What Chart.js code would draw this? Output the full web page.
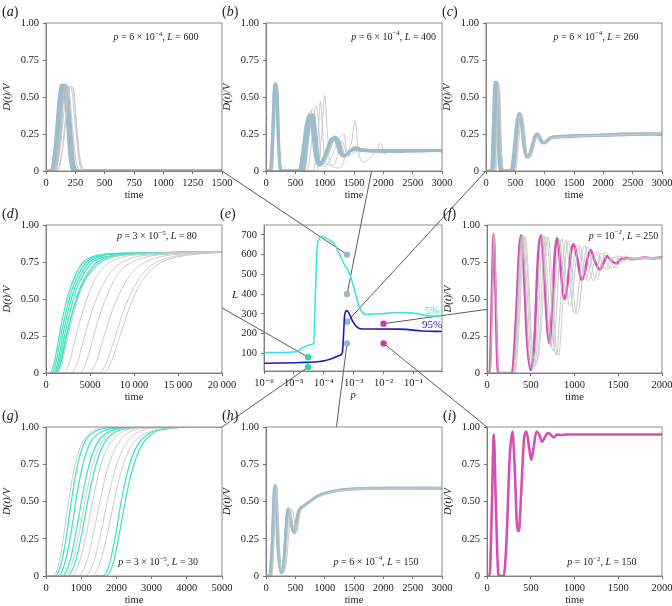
<!DOCTYPE html>
<html>
<head>
<meta charset="utf-8">
<script src="https://cdn.jsdelivr.net/npm/chart.js@4.4.1/dist/chart.umd.min.js"></script>
<style>
  body { margin: 0; background: #fff; }
  #fig { position: relative; width: 672px; height: 606px; overflow: hidden; }
  #fig canvas { position: absolute; }
</style>
</head>
<body>
<div id="fig"><canvas id="links" width="672" height="606" style="left:0;top:0"></canvas></div>
<script>
// ---- data: [time, D(t)/V] pairs ----
const aGray = [
  [[0,0],[70,0],[120,0.15],[160,0.45],[190,0.57],[215,0.56],[245,0.35],[280,0.08],[320,0],[1500,0]],
  [[0,0],[90,0],[140,0.15],[180,0.47],[210,0.57],[230,0.56],[260,0.3],[295,0.05],[340,0],[1500,0]],
  [[0,0],[60,0],[105,0.15],[145,0.48],[170,0.58],[195,0.56],[225,0.3],[260,0.05],[300,0],[1500,0]],
  [[0,0],[100,0],[150,0.2],[190,0.52],[215,0.57],[235,0.55],[262,0.3],[300,0.04],[345,0],[1500,0]]
];
const aBlue = [
  [[0,0],[45,0],[90,0.2],[120,0.5],[140,0.58],[160,0.58],[185,0.38],[215,0.08],[250,0],[1500,0]],
  [[0,0],[60,0],[105,0.2],[135,0.5],[155,0.58],[175,0.57],[200,0.36],[230,0.06],[265,0],[1500,0]],
  [[0,0],[35,0],[75,0.15],[110,0.48],[130,0.58],[150,0.58],[175,0.4],[205,0.08],[240,0],[1500,0]],
  [[0,0],[70,0],[115,0.2],[145,0.52],[165,0.58],[182,0.55],[210,0.3],[240,0.04],[270,0],[1500,0]]
];
const bGray = [
  [[0,0],[650,0],[720,0.2],[790,0.42],[830,0.4],[880,0.15],[950,0.04],[1050,0.1],[1200,0.22],[1280,0.2],[1350,0.1],[1450,0.13],[1600,0.15],[1800,0.13],[2200,0.14],[3000,0.14]],
  [[0,0],[700,0],[780,0.2],[850,0.44],[880,0.4],[930,0.12],[990,0.03],[1100,0.08],[1250,0.22],[1330,0.25],[1390,0.1],[1480,0.12],[1650,0.15],[2000,0.13],[2500,0.14],[3000,0.14]],
  [[0,0],[800,0],[880,0.2],[930,0.47],[960,0.3],[1010,0.05],[1150,0.04],[1300,0.2],[1380,0.12],[1500,0.14],[1700,0.15],[2000,0.13],[3000,0.14]],
  [[0,0],[860,0],[950,0.25],[1000,0.51],[1040,0.3],[1090,0.05],[1250,0.02],[1380,0.12],[1460,0.2],[1520,0.34],[1570,0.15],[1650,0.06],[1800,0.1],[1900,0.15],[1950,0.19],[2020,0.12],[2150,0.13],[3000,0.14]],
  [[0,0],[620,0],[690,0.2],[750,0.4],[790,0.38],[850,0.12],[920,0.03],[1000,0.06],[1120,0.18],[1210,0.23],[1270,0.18],[1340,0.09],[1430,0.14],[1560,0.16],[1700,0.13],[2400,0.14],[3000,0.14]]
];
const bBlue = [
  [[0,0],[70,0],[110,0.25],[140,0.55],[155,0.59],[175,0.57],[200,0.3],[230,0.05],[260,0],[560,0],[620,0.12],[680,0.3],[730,0.38],[780,0.3],[840,0.1],[900,0.04],[960,0.06],[1040,0.15],[1120,0.22],[1180,0.21],[1260,0.12],[1330,0.1],[1420,0.13],[1550,0.15],[1700,0.14],[2000,0.13],[2300,0.14],[2600,0.135],[3000,0.14]],
  [[0,0],[80,0],[120,0.3],[145,0.58],[165,0.59],[185,0.5],[210,0.2],[245,0.02],[270,0],[600,0],[660,0.15],[720,0.33],[760,0.37],[810,0.28],[870,0.08],[930,0.05],[1000,0.1],[1100,0.2],[1180,0.23],[1230,0.2],[1300,0.11],[1380,0.11],[1480,0.15],[1600,0.14],[1800,0.135],[2100,0.14],[2500,0.135],[2800,0.14],[3000,0.14]],
  [[0,0],[90,0],[130,0.3],[160,0.58],[180,0.58],[200,0.45],[225,0.12],[255,0],[640,0],[700,0.18],[760,0.36],[800,0.38],[850,0.25],[910,0.06],[980,0.07],[1070,0.16],[1160,0.22],[1240,0.2],[1320,0.1],[1400,0.12],[1520,0.16],[1650,0.14],[1900,0.14],[2200,0.13],[2700,0.14],[3000,0.135]]
];
const cGray = [
  [[0,0],[150,0],[190,0.4],[210,0.6],[225,0.5],[250,0.2],[285,0.02],[320,0],[480,0],[530,0.15],[575,0.37],[610,0.37],[660,0.2],[720,0.08],[800,0.15],[880,0.24],[940,0.22],[1010,0.19],[1100,0.22],[1300,0.23],[2000,0.24],[3000,0.25]],
  [[0,0],[170,0],[200,0.3],[220,0.58],[240,0.5],[265,0.15],[300,0],[500,0],[550,0.15],[600,0.38],[640,0.33],[700,0.12],[760,0.09],[840,0.2],[900,0.25],[960,0.2],[1030,0.19],[1150,0.225],[1500,0.235],[2200,0.245],[3000,0.25]]
];
const cBlue = [
  [[0,0],[90,0],[125,0.35],[150,0.6],[170,0.58],[195,0.3],[225,0.05],[260,0],[420,0],[470,0.12],[520,0.32],[560,0.39],[600,0.32],[650,0.15],[700,0.09],[760,0.13],[830,0.23],[870,0.25],[910,0.22],[960,0.19],[1010,0.19],[1080,0.22],[1150,0.23],[1300,0.23],[1600,0.235],[2000,0.24],[2400,0.245],[2700,0.25],[3000,0.25]],
  [[0,0],[110,0],[145,0.35],[170,0.6],[190,0.58],[215,0.3],[245,0.05],[280,0],[440,0],[490,0.12],[540,0.33],[580,0.39],[620,0.3],[670,0.13],[720,0.1],[790,0.16],[860,0.25],[900,0.24],[950,0.2],[1000,0.19],[1060,0.21],[1140,0.23],[1350,0.235],[1700,0.24],[2100,0.245],[2500,0.25],[3000,0.245]],
  [[0,0],[130,0],[165,0.35],[185,0.6],[205,0.56],[230,0.28],[260,0.04],[300,0],[460,0],[510,0.15],[555,0.35],[590,0.38],[635,0.27],[690,0.1],[740,0.11],[810,0.2],[880,0.25],[920,0.23],[980,0.19],[1030,0.2],[1100,0.225],[1250,0.23],[1500,0.24],[1900,0.24],[2300,0.25],[2800,0.25],[3000,0.25]]
];
const dGray = [
  [[0,0],[1300,0],[1800,0.06],[2500,0.25],[3300,0.43],[4200,0.6],[5100,0.7],[6000,0.75],[7500,0.785],[9500,0.8],[13000,0.81],[20000,0.82]],
  [[0,0],[2000,0],[2600,0.06],[3400,0.25],[4300,0.44],[5300,0.6],[6300,0.7],[7300,0.75],[8800,0.785],[11000,0.8],[15000,0.815],[20000,0.82]],
  [[0,0],[2800,0],[3500,0.06],[4400,0.25],[5400,0.45],[6500,0.6],[7600,0.7],[8700,0.75],[10200,0.785],[12500,0.8],[16000,0.815],[20000,0.82]],
  [[0,0],[3800,0],[4500,0.06],[5400,0.25],[6400,0.44],[7500,0.6],[8600,0.7],[9800,0.75],[11500,0.785],[14000,0.805],[20000,0.82]],
  [[0,0],[4800,0],[5600,0.06],[6600,0.25],[7700,0.45],[8900,0.6],[10100,0.7],[11300,0.75],[13000,0.785],[15500,0.805],[20000,0.815]],
  [[0,0],[6000,0],[6800,0.06],[7900,0.25],[9000,0.45],[10200,0.6],[11400,0.7],[12600,0.75],[14300,0.785],[16800,0.805],[20000,0.815]],
  [[0,0],[6500,0],[7300,0.06],[8400,0.25],[9600,0.46],[10800,0.61],[12000,0.7],[13200,0.75],[15000,0.785],[17500,0.805],[20000,0.815]]
];
const dGreen = [
  [[0,0],[500,0],[900,0.06],[1500,0.25],[2100,0.43],[2800,0.58],[3500,0.68],[4250,0.75],[5500,0.79],[7000,0.805],[10000,0.81],[15000,0.815],[20000,0.82]],
  [[0,0],[700,0],[1100,0.06],[1700,0.25],[2350,0.43],[3050,0.58],[3800,0.68],[4600,0.75],[5900,0.79],[7500,0.805],[10500,0.81],[20000,0.82]],
  [[0,0],[850,0],[1300,0.06],[1900,0.25],[2550,0.43],[3300,0.58],[4100,0.68],[4950,0.75],[6300,0.79],[8000,0.805],[11000,0.81],[20000,0.82]],
  [[0,0],[1000,0],[1450,0.06],[2100,0.25],[2800,0.43],[3550,0.58],[4400,0.68],[5300,0.75],[6700,0.785],[8500,0.8],[12000,0.81],[20000,0.82]],
  [[0,0],[1200,0],[1650,0.06],[2350,0.25],[3100,0.43],[3900,0.58],[4800,0.68],[5800,0.75],[7200,0.785],[9000,0.8],[12500,0.81],[20000,0.82]],
  [[0,0],[1100,0],[1600,0.06],[2300,0.25],[3200,0.45],[4200,0.6],[5300,0.7],[6500,0.76],[8000,0.79],[10000,0.805],[14000,0.815],[20000,0.82]]
];
const fGray = [
  [[0,0],[35,0],[60,0.5],[80,0.94],[100,0.6],[125,0.05],[140,0],[300,0],[350,0.35],[390,0.85],[412,0.93],[445,0.7],[490,0.2],[530,0.03],[575,0.2],[620,0.8],[650,0.93],[685,0.7],[725,0.25],[755,0.15],[790,0.38],[830,0.8],[855,0.91],[890,0.72],[930,0.48],[955,0.45],[990,0.6],[1030,0.82],[1060,0.86],[1110,0.72],[1160,0.62],[1200,0.68],[1240,0.8],[1270,0.82],[1320,0.73],[1380,0.7],[1430,0.76],[1480,0.79],[1540,0.75],[1620,0.77],[1800,0.78],[2000,0.775]],
  [[0,0],[310,0],[360,0.35],[400,0.85],[425,0.92],[460,0.7],[510,0.15],[555,0.05],[600,0.25],[645,0.8],[680,0.92],[720,0.65],[760,0.22],[795,0.12],[830,0.38],[875,0.8],[905,0.9],[940,0.7],[985,0.42],[1010,0.4],[1050,0.6],[1090,0.82],[1120,0.86],[1170,0.7],[1220,0.62],[1260,0.7],[1300,0.81],[1340,0.8],[1400,0.71],[1460,0.72],[1510,0.79],[1570,0.78],[1650,0.76],[1800,0.78],[2000,0.77]],
  [[0,0],[320,0],[375,0.4],[415,0.88],[440,0.92],[475,0.65],[525,0.12],[570,0.08],[620,0.3],[670,0.82],[700,0.92],[745,0.6],[785,0.2],[820,0.12],[860,0.42],[905,0.82],[935,0.89],[975,0.65],[1020,0.4],[1050,0.42],[1090,0.65],[1130,0.83],[1160,0.85],[1210,0.68],[1260,0.64],[1310,0.74],[1350,0.82],[1400,0.78],[1460,0.71],[1520,0.74],[1580,0.79],[1660,0.77],[1800,0.77],[2000,0.78]],
  [[0,0],[295,0],[340,0.35],[380,0.85],[400,0.93],[430,0.7],[475,0.15],[515,0.03],[560,0.2],[600,0.8],[632,0.93],[668,0.68],[705,0.25],[735,0.18],[765,0.4],[805,0.82],[830,0.9],[865,0.72],[905,0.52],[930,0.5],[965,0.62],[1005,0.83],[1040,0.86],[1085,0.72],[1130,0.63],[1170,0.7],[1210,0.8],[1250,0.81],[1300,0.73],[1360,0.71],[1410,0.77],[1460,0.78],[1520,0.75],[1600,0.77],[2000,0.775]]
];
const fMag = [
  [[0,0],[30,0],[55,0.5],[76,0.94],[95,0.6],[120,0.05],[135,0],[285,0],[330,0.35],[370,0.85],[392,0.93],[420,0.7],[460,0.2],[500,0.02],[540,0.2],[585,0.8],[617,0.93],[650,0.7],[690,0.3],[712,0.2],[740,0.38],[775,0.8],[800,0.91],[835,0.75],[870,0.53],[890,0.5],[920,0.6],[960,0.82],[990,0.87],[1030,0.78],[1080,0.63],[1110,0.66],[1150,0.78],[1185,0.83],[1230,0.76],[1290,0.7],[1330,0.74],[1370,0.79],[1420,0.76],[1480,0.74],[1530,0.77],[1600,0.775],[1700,0.77],[1800,0.78],[1900,0.775],[2000,0.78]]
];
const gGray = [
  [[0,0],[200,0],[380,0.1],[520,0.3],[640,0.5],[800,0.72],[1000,0.88],[1300,0.97],[1700,0.995],[2200,1],[5000,1]],
  [[0,0],[500,0],[760,0.1],[950,0.3],[1120,0.52],[1310,0.73],[1560,0.89],[1900,0.97],[2400,0.995],[3000,1],[5000,1]],
  [[0,0],[700,0],[960,0.1],[1160,0.3],[1340,0.52],[1540,0.73],[1800,0.88],[2200,0.97],[2700,0.995],[3400,1],[5000,1]],
  [[0,0],[900,0],[1160,0.1],[1360,0.3],[1550,0.52],[1760,0.73],[2020,0.88],[2400,0.97],[3000,0.995],[3700,1],[5000,1]],
  [[0,0],[1100,0],[1360,0.1],[1570,0.3],[1760,0.52],[1970,0.72],[2250,0.88],[2650,0.97],[3300,0.995],[4000,1],[5000,1]],
  [[0,0],[1300,0],[1550,0.1],[1760,0.3],[1950,0.52],[2160,0.72],[2440,0.88],[2850,0.96],[3500,0.99],[4200,1],[5000,1]]
];
const gGreen = [
  [[0,0],[250,0],[450,0.1],[600,0.3],[750,0.55],[900,0.75],[1100,0.9],[1400,0.97],[1800,0.995],[2300,1],[5000,1]],
  [[0,0],[350,0],[550,0.1],[720,0.3],[880,0.55],[1050,0.75],[1270,0.9],[1600,0.97],[2100,0.995],[2600,1],[5000,1]],
  [[0,0],[450,0],[680,0.1],[860,0.3],[1030,0.53],[1220,0.74],[1450,0.89],[1800,0.97],[2300,0.995],[2900,1],[5000,1]],
  [[0,0],[600,0],[840,0.1],[1030,0.3],[1210,0.53],[1400,0.73],[1650,0.89],[2000,0.97],[2500,0.995],[3100,1],[5000,1]],
  [[0,0],[1600,0],[1800,0.08],[1980,0.28],[2150,0.52],[2350,0.73],[2600,0.88],[2950,0.96],[3500,0.995],[4200,1],[5000,1]],
  [[0,0],[1700,0],[1900,0.08],[2080,0.28],[2250,0.5],[2450,0.71],[2700,0.87],[3050,0.96],[3600,0.99],[4300,1],[5000,1]]
];
const hGray = [
  [[0,0],[90,0],[140,0.3],[175,0.6],[195,0.45],[230,0.12],[270,0.03],[320,0.06],[370,0.3],[410,0.45],[450,0.36],[500,0.28],[540,0.35],[590,0.44],[700,0.48],[850,0.52],[1000,0.55],[1300,0.575],[2000,0.59],[3000,0.59]],
  [[0,0],[100,0],[150,0.35],[185,0.61],[205,0.45],[245,0.1],[290,0.02],[350,0.1],[410,0.38],[450,0.45],[490,0.35],[530,0.3],[580,0.42],[680,0.47],[850,0.52],[1100,0.56],[1500,0.58],[3000,0.59]]
];
const hBlue = [
  [[0,0],[60,0],[100,0.2],[135,0.55],[152,0.61],[170,0.5],[200,0.2],[240,0.05],[270,0.03],[300,0.08],[330,0.25],[365,0.43],[385,0.45],[420,0.38],[460,0.3],[490,0.3],[530,0.4],[580,0.45],[650,0.47],[750,0.5],[850,0.53],[980,0.55],[1100,0.565],[1250,0.575],[1500,0.585],[1800,0.59],[2200,0.59],[2600,0.59],[3000,0.59]],
  [[0,0],[75,0],[115,0.25],[150,0.6],[165,0.6],[190,0.4],[225,0.1],[260,0.02],[290,0.04],[320,0.18],[355,0.4],[380,0.45],[410,0.4],[450,0.32],[480,0.29],[515,0.35],[560,0.44],[640,0.47],[760,0.505],[900,0.54],[1050,0.56],[1300,0.58],[1600,0.585],[2000,0.59],[2500,0.59],[3000,0.59]]
];
const iMag = [
  [[0,0],[30,0],[55,0.45],[78,0.95],[98,0.55],[125,0.05],[140,0],[190,0],[220,0.2],[260,0.8],[290,0.97],[315,0.75],[345,0.33],[365,0.3],[390,0.55],[425,0.93],[450,0.97],[480,0.87],[505,0.78],[530,0.85],[565,0.97],[595,0.95],[630,0.9],[660,0.93],[695,0.96],[725,0.95],[760,0.93],[800,0.95],[850,0.945],[900,0.95],[1000,0.95],[1200,0.95],[1500,0.95],[1800,0.95],[2000,0.95]]
];

// panel (e): thresholds L(p)
const eCyanP = [1e-6,3e-6,1.2e-5,2.0e-5,3.4e-5,4.6e-5,5.0e-5,5.5e-5,6.0e-5,7.0e-5,8.5e-5,1.6e-4,2.3e-4,4.5e-4,7.6e-4,1.1e-3,1.6e-3,2.1e-3,2.7e-3,1e-2,3.5e-2,0.13,0.28,0.62,0.9];
const eCyanL = [103,104,108,129,142,152,300,500,640,680,690,672,652,560,497,412,328,302,297,302,307,302,290,289,292];
const eBlueP = [1e-6,1.6e-5,7.4e-5,2e-4,3.5e-4,4.2e-4,4.6e-4,5.0e-4,5.9e-4,7e-4,9e-4,1.3e-3,1.7e-3,3e-3,3.5e-2,0.2,0.9];
const eBlueL = [49,53,58,75,90,104,200,295,316,302,265,232,224,223,222,213,210];

// simulated cases shown in the other panels
const caseKeys = ['a','b','c','d','f','g','h','i'];
const caseP = [6e-4, 6e-4, 6e-4, 3e-5, 1e-2, 3e-5, 6e-4, 1e-2];
const caseL = [600, 400, 260, 80, 250, 30, 150, 150];

// ticks
const yTicks = [0, 0.25, 0.5, 0.75, 1];
const yLabels = ['0', '0.25', '0.50', '0.75', '1.00'];
const xTicks1500 = [0, 250, 500, 750, 1000, 1250, 1500];
const xTicks3000 = [0, 500, 1000, 1500, 2000, 2500, 3000];
const xTicks2000 = [0, 500, 1000, 1500, 2000];
const xTicks5000 = [0, 1000, 2000, 3000, 4000, 5000];
const xTicks20000 = [0, 5000, 10000, 15000, 20000];
const xLabels20000 = ['0', '5000', '10\u2009000', '15\u2009000', '20\u2009000'];
const eXTicks = [1e-6, 1e-5, 1e-4, 1e-3, 1e-2, 1e-1];
const eXLabels = ['10\u207b\u2076', '10\u207b\u2075', '10\u207b\u2074', '10\u207b\u00b3', '10\u207b\u00b2', '10\u207b\u00b9'];
const eYTicks = [100, 200, 300, 400, 500, 600, 700];

// ---- layout and style ----
const SERIF = '"Liberation Serif", "DejaVu Serif", serif';
const AXIS = '#707070';
const PAD_L = 46, PAD_T = 22, PAD_R = 18, PAD_B = 36;
const BOXES = {
  a: [46, 23, 222, 171], b: [266, 23, 442, 171], c: [486, 23, 662, 171],
  d: [46, 225, 222, 373], e: [264, 225, 442, 371], f: [487, 225, 662, 373],
  g: [46, 427, 222, 576], h: [266, 427, 442, 576], i: [487, 427, 662, 576]
};
const NOTE_POS = {
  a: [0.625, 0.1], b: [0.725, 0.095], c: [0.625, 0.095], d: [0.63, 0.08],
  f: [0.78, 0.075], g: [0.637, 0.91], h: [0.625, 0.906], i: [0.657, 0.91]
};
const LINK_ANCHOR = {
  a: [1, 0], b: [0.6, 0], c: [0, 0], d: [1, 0.44], f: [0, 0.43], g: [1, 1], h: [0.4, 1], i: [0, 1]
};
const STYLE = {
  gray: { c: '#c6c6c6', w: 0.9 },
  blue: { c: '#9dbdcc', w: 2.8 },
  green: { c: '#3fe2c0', w: 1.2 },
  mag: { c: '#d64fb2', w: 2.6 }
};
const CASE_COLOR = p => p < 1e-4 ? '#27d9a5' : (p > 5e-3 ? '#cc3d9f' : '#9ab6c6');

Chart.defaults.font.family = SERIF;
Chart.defaults.color = '#222';

const fig = document.getElementById('fig');
const pts = arr => arr.map(([x, y]) => ({ x, y }));
const xy = (xs, ys) => xs.map((x, i) => ({ x, y: ys[i] }));

function drawRich(ctx, segs, x, y, size, align) {
  const fontOf = s => (s.i ? 'italic ' : '') + (s.sup ? size * 0.7 : size) + 'px ' + SERIF;
  let total = 0;
  segs.forEach(s => { ctx.font = fontOf(s); total += ctx.measureText(s.t).width; });
  let cx = align === 'center' ? x - total / 2 : x;
  ctx.textAlign = 'left';
  ctx.textBaseline = 'middle';
  segs.forEach(s => {
    ctx.font = fontOf(s);
    ctx.fillText(s.t, cx, s.sup ? y - size * 0.38 : y);
    cx += ctx.measureText(s.t).width;
  });
}

function noteSegs(p, L) {
  const e = Math.floor(Math.log10(p) + 1e-9);
  const m = Math.round(p / Math.pow(10, e));
  return [{ t: 'p', i: 1 }, { t: ' = ' + (m === 1 ? '' : m + ' \u00d7 ') + '10' }, { t: '\u2212' + (-e), sup: 1 }, { t: ', ' }, { t: 'L', i: 1 }, { t: ' = ' + L }];
}

const deco = {};
const decoPlugin = {
  id: 'deco',
  afterDraw(chart) {
    const o = deco[chart.canvas.dataset.key];
    const { ctx, chartArea: ca } = chart;
    ctx.save();
    ctx.strokeStyle = AXIS;
    ctx.lineWidth = 0.8;
    ctx.strokeRect(ca.left, ca.top, ca.right - ca.left, ca.bottom - ca.top);
    ctx.fillStyle = '#222';
    drawRich(ctx, [{ t: '(' }, { t: o.label, i: 1 }, { t: ')' }], ca.left - 44, ca.top - 11, 14, 'left');
    if (o.note) {
      drawRich(ctx, o.note, ca.left + o.pos[0] * (ca.right - ca.left), ca.top + o.pos[1] * (ca.bottom - ca.top), 10, 'center');
    }
    if (o.label === 'e') {
      drawRich(ctx, [{ t: 'L', i: 1 }], ca.left - 32, (ca.top + ca.bottom) / 2 - 3, 11, 'left');
      const sx = chart.scales.x, sy = chart.scales.y;
      ctx.fillStyle = '#30e4e8';
      drawRich(ctx, [{ t: '5%' }], sx.getPixelForValue(0.42), sy.getPixelForValue(316), 11, 'center');
      ctx.fillStyle = '#2020c0';
      drawRich(ctx, [{ t: '95%' }], sx.getPixelForValue(0.42), sy.getPixelForValue(241), 11, 'center');
    }
    ctx.restore();
  }
};

function axis(type, ticks, labels, title, italic, isY, min, max) {
  return {
    type,
    min: min !== undefined ? min : ticks[0],
    max: max !== undefined ? max : ticks[ticks.length - 1],
    afterBuildTicks: s => { s.ticks = ticks.map(v => ({ value: v })); },
    afterFit: s => { if (isY) s.width = PAD_L; else s.height = PAD_B; },
    ticks: { callback: (v, i) => labels[i], font: { size: 10.5 }, color: '#222', padding: isY ? 4 : 3, maxRotation: 0, autoSkip: false },
    grid: { display: true, drawOnChartArea: false, drawTicks: true, tickLength: 3, color: AXIS },
    border: { display: true, color: AXIS, width: 0.8 },
    title: {
      display: !!title, text: title, color: '#222',
      font: { size: 10.5, style: italic ? 'italic' : 'normal' },
      padding: isY ? { top: 1, bottom: 0 } : { top: 0, bottom: 5 }
    }
  };
}

function makeChart(key, datasets, scales) {
  const [l, t, r, b] = BOXES[key];
  const cv = document.createElement('canvas');
  cv.width = (r - l) + PAD_L + PAD_R;
  cv.height = (b - t) + PAD_T + PAD_B;
  cv.style.left = (l - PAD_L) + 'px';
  cv.style.top = (t - PAD_T) + 'px';
  cv.dataset.key = key;
  fig.appendChild(cv);
  const chart = new Chart(cv, {
    type: 'line',
    data: { datasets },
    options: {
      responsive: false,
      animation: false,
      layout: { padding: { left: 0, top: PAD_T, right: PAD_R, bottom: 0 } },
      plugins: { legend: { display: false }, tooltip: { enabled: false } },
      elements: { point: { radius: 0 } },
      scales
    },
    plugins: [decoPlugin]
  });
  chart.$off = { x: l - PAD_L, y: t - PAD_T };
  return chart;
}

function lineSet(rows, st) {
  return rows.map(r => ({
    data: pts(r), borderColor: st.c, borderWidth: st.w, pointRadius: 0,
    fill: false, cubicInterpolationMode: 'monotone'
  }));
}

const charts = {};
function timePanel(key, xTicks, xLabels, groups) {
  const i = caseKeys.indexOf(key);
  deco[key] = { label: key, note: noteSegs(caseP[i], caseL[i]), pos: NOTE_POS[key] };
  const datasets = [];
  groups.forEach(([rows, st]) => datasets.push(...lineSet(rows, STYLE[st])));
  charts[key] = makeChart(key, datasets, {
    x: axis('linear', xTicks, xLabels, 'time', false, false),
    y: axis('linear', yTicks, yLabels, 'D(t)/V', true, true)
  });
}

const str = a => a.map(String);
timePanel('a', xTicks1500, str(xTicks1500), [[aGray, 'gray'], [aBlue, 'blue']]);
timePanel('b', xTicks3000, str(xTicks3000), [[bBlue, 'blue'], [bGray, 'gray']]);
timePanel('c', xTicks3000, str(xTicks3000), [[cGray, 'gray'], [cBlue, 'blue']]);
timePanel('d', xTicks20000, xLabels20000, [[dGray, 'gray'], [dGreen, 'green']]);
timePanel('f', xTicks2000, str(xTicks2000), [[fGray, 'gray'], [fMag, 'mag']]);
timePanel('g', xTicks5000, str(xTicks5000), [[gGray, 'gray'], [gGreen, 'green']]);
timePanel('h', xTicks3000, str(xTicks3000), [[hGray, 'gray'], [hBlue, 'blue']]);
timePanel('i', xTicks2000, str(xTicks2000), [[iMag, 'mag']]);

// panel (e)
deco.e = { label: 'e' };
charts.e = makeChart('e', [
  { data: xy(eCyanP, eCyanL), borderColor: '#30e4e8', borderWidth: 1.5, pointRadius: 0, cubicInterpolationMode: 'monotone' },
  { data: xy(eBlueP, eBlueL), borderColor: '#1c1cc4', borderWidth: 1.6, pointRadius: 0, cubicInterpolationMode: 'monotone' },
  {
    data: xy(caseP, caseL), showLine: false, pointRadius: 3.2, pointBorderWidth: 0,
    pointBackgroundColor: caseP.map(CASE_COLOR), borderColor: 'rgba(0,0,0,0)'
  }
], {
  x: axis('logarithmic', eXTicks, eXLabels, 'p', true, false, 1e-6, 0.9),
  y: axis('linear', eYTicks, str(eYTicks), '', false, true, 10, 750)
});

// connector lines from the (e) points to their panels
const lctx = document.getElementById('links').getContext('2d');
lctx.strokeStyle = '#333';
lctx.lineWidth = 0.8;
caseKeys.forEach((k, i) => {
  const e = charts.e, t = charts[k], ca = t.chartArea;
  const x0 = e.$off.x + e.scales.x.getPixelForValue(caseP[i]);
  const y0 = e.$off.y + e.scales.y.getPixelForValue(caseL[i]);
  const x1 = t.$off.x + ca.left + LINK_ANCHOR[k][0] * (ca.right - ca.left);
  const y1 = t.$off.y + ca.bottom - LINK_ANCHOR[k][1] * (ca.bottom - ca.top);
  lctx.beginPath();
  lctx.moveTo(x0, y0);
  lctx.lineTo(x1, y1);
  lctx.stroke();
});
</script>
</body>
</html>
